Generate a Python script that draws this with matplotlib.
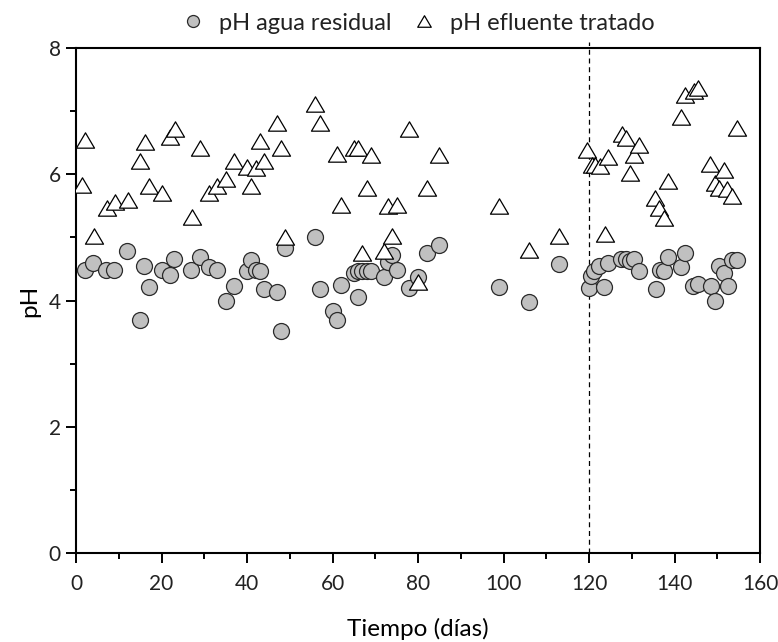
import numpy as np
import matplotlib
matplotlib.use("Agg")
import matplotlib.pyplot as plt
from matplotlib.ticker import MultipleLocator
from matplotlib.path import Path

plt.rcParams['font.family'] = ['Lato', 'DejaVu Sans']

# pH agua residual (circulos)
dias_res = [2, 4, 7, 9, 12, 15, 16, 17, 20, 22, 23, 27, 29, 31, 33, 35, 37, 40, 41, 42,
            43, 44, 47, 48, 49, 56, 57, 60, 61, 62, 65, 66, 66, 67, 68, 69, 72, 73, 74, 75,
            78, 80, 82, 85, 99, 106, 113, 120, 120.4, 121.2, 122.4, 123.6, 124.5, 127.5,
            128.7, 129.6, 130.5, 131.7, 135.6, 136.6, 137.6, 138.5, 141.5, 142.5, 144.4,
            145.4, 148.5, 149.5, 150.5, 151.6, 152.4, 153.4, 154.5]
ph_res = [4.48, 4.59, 4.48, 4.48, 4.78, 3.69, 4.55, 4.22, 4.49, 4.40, 4.66, 4.48, 4.69, 4.53,
          4.48, 4.00, 4.23, 4.47, 4.64, 4.49, 4.46, 4.18, 4.13, 3.51, 4.83, 5.00, 4.18, 3.84,
          3.69, 4.25, 4.44, 4.06, 4.47, 4.47, 4.47, 4.47, 4.38, 4.61, 4.72, 4.48, 4.20, 4.38,
          4.76, 4.88, 4.21, 3.97, 4.58, 4.20, 4.39, 4.46, 4.55, 4.21, 4.60, 4.65, 4.66, 4.63,
          4.66, 4.46, 4.18, 4.49, 4.47, 4.69, 4.53, 4.76, 4.23, 4.26, 4.23, 4.00, 4.54, 4.44,
          4.23, 4.64, 4.64]

# pH efluente tratado (triangulos)
dias_ef = [1.3, 2.1, 4.2, 7.2, 9.2, 12.2, 15, 16.1, 17, 20, 22.1, 23.2, 27.1, 29, 31, 33, 35,
           37, 40, 41, 42, 43, 44, 47, 48, 49, 56, 57, 61, 62, 65, 66, 67, 68, 69, 72, 73, 74,
           75, 78, 80, 82, 85, 99, 106, 113, 119.5, 120.6, 121.4, 122.6, 123.7, 124.5, 127.6,
           128.7, 129.6, 130.5, 131.7, 135.4, 136.4, 137.5, 138.5, 141.5, 142.5, 144.6, 145.6,
           148.3, 149.5, 150.5, 151.6, 152.2, 153.5, 154.5]
ph_ef = [5.83, 6.55, 5.02, 5.47, 5.56, 5.60, 6.21, 6.51, 5.81, 5.71, 6.59, 6.71, 5.32, 6.41,
         5.71, 5.81, 5.92, 6.21, 6.12, 5.81, 6.10, 6.53, 6.21, 6.81, 6.41, 5.01, 7.11, 6.81,
         6.32, 5.51, 6.41, 6.41, 4.75, 5.79, 6.31, 4.78, 5.49, 5.02, 5.51, 6.71, 4.29, 5.79,
         6.31, 5.49, 4.80, 5.03, 6.38, 6.15, 6.15, 6.13, 5.05, 6.27, 6.64, 6.58, 6.02, 6.31,
         6.46, 5.62, 5.46, 5.30, 5.90, 6.91, 7.26, 7.32, 7.36, 6.17, 5.86, 5.79, 6.07, 5.76,
         5.66, 6.73]

# triangulo algo mas ancho que alto, cerrado
tri = Path([(-1, -0.85), (1, -0.85), (0, 0.85), (-1, -0.85)],
           [Path.MOVETO, Path.LINETO, Path.LINETO, Path.CLOSEPOLY])

fig = plt.figure(figsize=(7.78, 6.42), dpi=100)
ax = fig.add_axes([0.0977, 0.1386, 0.8792, 0.7866])

ax.plot(dias_res, ph_res, linestyle='none', marker='o', markersize=11.5,
        markerfacecolor='#c0c0c0', markeredgecolor='#2a2a2a', markeredgewidth=0.9,
        label='pH agua residual', zorder=3)
ax.plot(dias_ef, ph_ef, linestyle='none', marker=tri, markersize=13,
        markerfacecolor='white', markeredgecolor='black', markeredgewidth=0.9,
        label='pH efluente tratado', zorder=4)

ax.plot([120, 120], [0, 8.1], color='black', linestyle=(0, (4, 3)), linewidth=0.9,
        clip_on=False, zorder=2)

ax.set_xlim(0, 160)
ax.set_ylim(0, 8)
ax.xaxis.set_major_locator(MultipleLocator(20))
ax.xaxis.set_minor_locator(MultipleLocator(10))
ax.yaxis.set_major_locator(MultipleLocator(2))
ax.yaxis.set_minor_locator(MultipleLocator(1))
ax.tick_params(which='both', direction='out', top=False, right=False, width=1.4)
ax.tick_params(which='major', length=7, labelsize=15, labelcolor='#222222')
ax.tick_params(axis='x', which='major', pad=8)
ax.tick_params(axis='y', which='major', pad=4)
ax.tick_params(which='minor', length=4)
for s in ax.spines.values():
    s.set_linewidth(1.5)

ax.set_xlabel('Tiempo (días)', fontsize=17.5)
ax.xaxis.set_label_coords(0.5, -0.129)
ax.set_ylabel('pH', fontsize=17.5)
ax.yaxis.set_label_coords(-0.052, 0.5)

fig.legend(handles=ax.get_lines()[:2], loc='center', bbox_to_anchor=(418 / 778, 1 - 23 / 642),
           ncol=2, frameon=False, markerscale=0.75, fontsize=17, handlelength=1.0,
           handletextpad=0.6, columnspacing=0.9, borderpad=0, labelcolor='#222222')

fig.savefig('out.png', dpi=100)
